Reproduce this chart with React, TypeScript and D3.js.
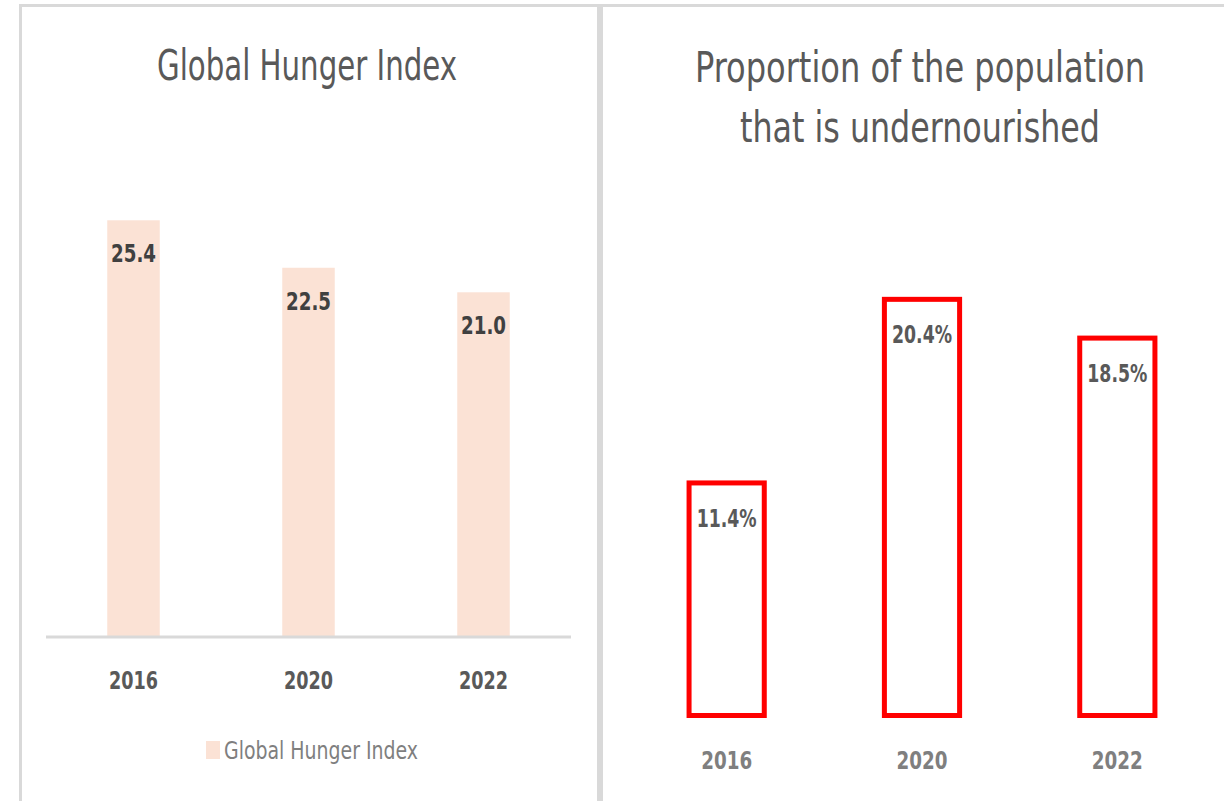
import React from "react";
import * as d3 from "d3";

const years = ["2016", "2020", "2022"];
const ghiValues = [25.4, 22.5, 21.0];
const undernourishedValues = [11.4, 20.4, 18.5];
const leftTitle = "Global Hunger Index";
const rightTitleLines = ["Proportion of the population", "that is undernourished"];
const legendLabel = "Global Hunger Index";

const FONT = "'Liberation Sans Narrow', 'Arial Narrow', 'DejaVu Sans Condensed', 'Roboto Condensed', 'DejaVu Sans', sans-serif";
const BORDER = "#d9d9d9";

export default function App() {
  // Left chart scales
  const xL = d3.scaleBand<string>().domain(years).range([46, 571]).paddingInner(0.7).paddingOuter(0.35);
  const yL = d3.scaleLinear().domain([0, 30]).range([636, 145]);

  // Right chart scales
  const xR = d3.scaleBand<string>().domain(years).range([629, 1215]).paddingInner(0.615).paddingOuter(0.3075);
  const yR = d3.scaleLinear().domain([0, 25]).range([715.5, 205.5]);

  return (
    <svg width={1224} height={801} style={{ position: "absolute", left: 0, top: 0, background: "#fff" }}>
      <rect x={0} y={0} width={1224} height={801} fill="#fff" />
      {/* panel borders */}
      <rect x={20.5} y={5.5} width={578} height={900} fill="none" stroke={BORDER} strokeWidth={3} />
      <rect x={601.5} y={5.5} width={900} height={900} fill="none" stroke={BORDER} strokeWidth={3} />

      {/* Left chart */}
      <text x={307} y={80} textAnchor="middle" fontFamily={FONT} fontSize={42} fontWeight={300} fill="#595959" textLength={300} lengthAdjust="spacingAndGlyphs">{leftTitle}</text>
      {years.map((yr, i) => (
        <g key={"l" + yr}>
          <rect x={xL(yr)} y={yL(ghiValues[i])} width={xL.bandwidth()} height={yL(0) - yL(ghiValues[i])} fill="#fbe2d5" />
          <text x={(xL(yr) as number) + xL.bandwidth() / 2} y={yL(ghiValues[i]) + 42} textAnchor="middle" fontFamily={FONT} fontSize={25} fontWeight="bold" fill="#404040" textLength={45} lengthAdjust="spacingAndGlyphs">
            {ghiValues[i].toFixed(1)}
          </text>
          <text x={(xL(yr) as number) + xL.bandwidth() / 2} y={689} textAnchor="middle" fontFamily={FONT} fontSize={25} fontWeight="bold" fill="#595959" textLength={49} lengthAdjust="spacingAndGlyphs">
            {yr}
          </text>
        </g>
      ))}
      <line x1={46} x2={571} y1={637} y2={637} stroke={BORDER} strokeWidth={3} />
      {/* legend */}
      <rect x={206} y={741} width={14} height={18} fill="#fbe2d5" />
      <text x={224} y={759} fontFamily={FONT} fontSize={24} fill="#7f7f7f" textLength={194} lengthAdjust="spacingAndGlyphs">{legendLabel}</text>

      {/* Right chart */}
      {rightTitleLines.map((t, i) => (
        <text key={t} x={920} y={82 + i * 60} textAnchor="middle" fontFamily={FONT} fontSize={42} fontWeight={300} fill="#595959" textLength={i === 0 ? 450 : 360} lengthAdjust="spacingAndGlyphs">{t}</text>
      ))}
      {years.map((yr, i) => (
        <g key={"r" + yr}>
          <rect x={xR(yr)} y={yR(undernourishedValues[i])} width={xR.bandwidth()} height={yR(0) - yR(undernourishedValues[i])} fill="#fff" stroke="#ff0000" strokeWidth={5} />
          <text x={(xR(yr) as number) + xR.bandwidth() / 2} y={yR(undernourishedValues[i]) + 44} textAnchor="middle" fontFamily={FONT} fontSize={25} fontWeight="bold" fill="#595959" textLength={60} lengthAdjust="spacingAndGlyphs">
            {undernourishedValues[i].toFixed(1) + "%"}
          </text>
          <text x={(xR(yr) as number) + xR.bandwidth() / 2} y={769} textAnchor="middle" fontFamily={FONT} fontSize={25} fontWeight="bold" fill="#7f7f7f" textLength={51} lengthAdjust="spacingAndGlyphs">
            {yr}
          </text>
        </g>
      ))}
    </svg>
  );
}
